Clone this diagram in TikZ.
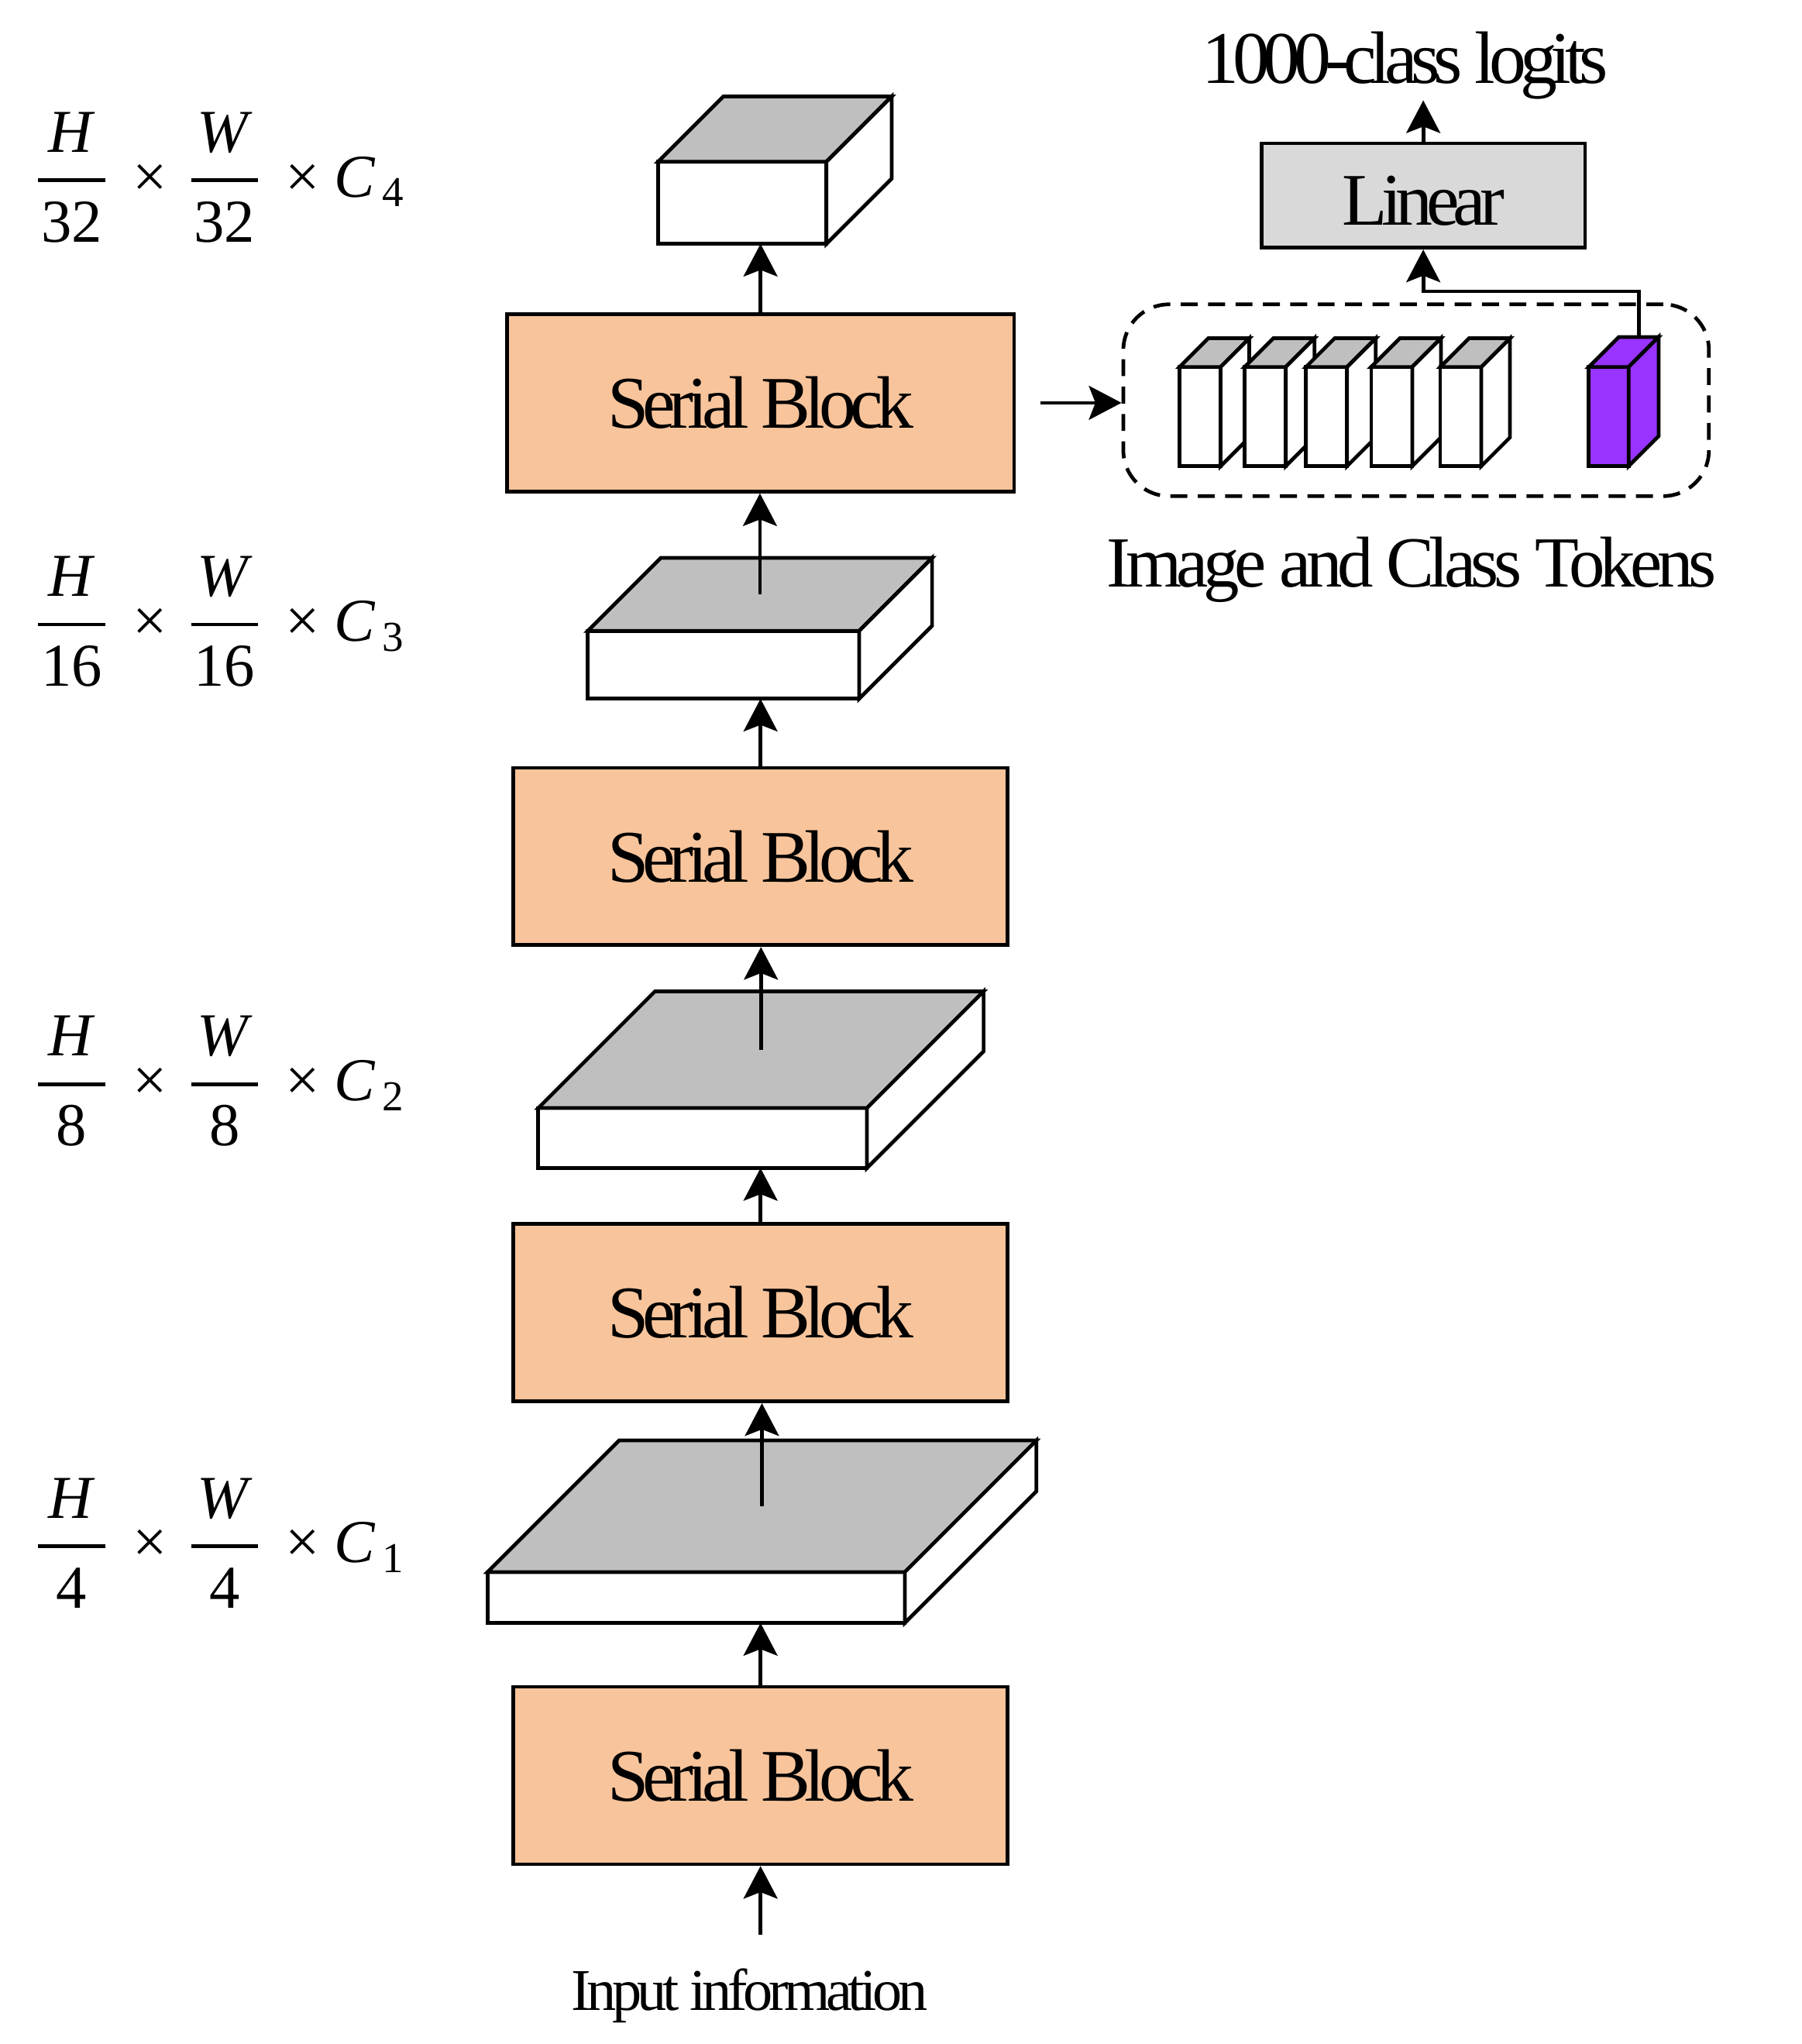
\documentclass[tikz,border=0pt]{standalone}
\usepackage{amsmath}
\usepackage{fontspec}
\setmainfont{Liberation Serif}
\newfontfamily\tightfont{Liberation Serif}[LetterSpace=-8.5]
\newfontfamily\looserfont{Liberation Serif}[LetterSpace=-7]
\usepackage{tikz}
\usetikzlibrary{positioning, arrows.meta, calc}
\definecolor{Peach}{HTML}{F8C49B}
\definecolor{Grey75}{HTML}{BFBFBF}
\definecolor{Grey85}{HTML}{D9D9D9}
\definecolor{TokViolet}{HTML}{9933FF}

\newcommand{\bigfont}{\fontsize{16.2pt}{19pt}\selectfont\tightfont}
\newcommand{\midfont}{\fontsize{15.7pt}{18pt}\selectfont\looserfont}
\newcommand{\smallfont}{\fontsize{12.9pt}{15pt}\selectfont\looserfont}
\newcommand{\mathsize}{\fontsize{13.3pt}{16pt}\selectfont}

% fraction with a fixed bar length
\newcommand{\frc}[2]{\genfrac{}{}{0.8pt}{0}{\makebox[1.1em]{\textit{#1}}}{\makebox[1.1em]{#2}}}
\newcommand{\dimlabel}[2]{$\frc{H}{#1}\mathbin{\mkern2mu\text{×}}\mkern1mu\frc{W}{#1}\mathbin{\mkern2mu\text{×}}\textit{C}\mkern2mu_{\text{#2}}$}

% feature map as a box: front node + top face + side face
\newcommand{\fmcube}[6][]{%
  \node[fmfront, minimum width=#4, minimum height=#5, #1] (#2) at #3 {};
  \filldraw[fmtop, #1] (#2.north west) -- ++(#6,-#6) -- ($(#2.north east)+(#6,-#6)$) -- (#2.north east) -- cycle;
  \filldraw[fmside, #1] (#2.north east) -- ++(#6,-#6) -- ($(#2.south east)+(#6,-#6)$) -- (#2.south east) -- cycle;
  \coordinate (#2-top) at ($(#2.north)+(#6/2,-#6/2)$);
  \coordinate (#2-back) at ($(#2.north)+(#6,-#6)$);
}

\begin{document}
\begin{tikzpicture}[
    x=0.01cm, y=-0.01cm,
    block/.style={draw, line width=0.8pt, fill=Peach, minimum width=3.79cm, minimum height=1.36cm, inner sep=0, font=\bigfont},
    linbox/.style={draw, line width=0.8pt, fill=Grey85, minimum width=2.48cm, minimum height=0.80cm, inner sep=0, text height=0.46cm, font=\bigfont},
    fmfront/.style={draw, line width=0.8pt, fill=white, inner sep=0, outer sep=0, anchor=north west},
    fmtop/.style={line width=0.8pt, fill=Grey75},
    fmside/.style={line width=0.8pt, fill=white},
    tokframe/.style={draw, line width=0.8pt, dash pattern=on 0.13cm off 0.08cm, rounded corners=0.35cm, minimum width=4.49cm, minimum height=1.47cm},
    dimlab/.style={inner sep=0, anchor=base west, font=\mathsize},
    txt/.style={inner sep=0, anchor=base},
    arr/.style={-{Stealth[length=2.5mm, width=2.6mm, inset=0.5mm]}, line width=0.8pt}
]
\useasboundingbox (0,0) rectangle (1382,1568);

% Serial blocks
\node[block] (sb1) at (583.5,1362) {Serial Block};
\node[block] (sb2) at (583.5,1007) {Serial Block};
\node[block] (sb3) at (583.5,657) {Serial Block};
\node[block, minimum width=3.89cm] (sb4) at (583.5,309) {Serial Block};

% Feature maps
\fmcube{fm1}{(374,1206)}{3.20cm}{0.39cm}{101}
\fmcube{fm2}{(413,850)}{2.52cm}{0.46cm}{89.5}
\fmcube{fm3}{(451,484)}{2.08cm}{0.52cm}{56}
\fmcube{fm4}{(505,124)}{1.29cm}{0.63cm}{50}

% Sizes
\node[dimlab] (d1) at (24.4,1198.7) {\dimlabel{4}{1}};
\node[dimlab] (d2) at (24.4,844.3) {\dimlabel{8}{2}};
\node[dimlab] (d3) at (24.4,491.7) {\dimlabel{16}{3}};
\node[dimlab] (d4) at (24.4,151) {\dimlabel{32}{4}};

% Input
\node[txt, font=\smallfont] (inp) at (575,1542) {Input information};
\coordinate (inp-top) at ([yshift=0.25cm]inp.north);

% Tokens and head
\node[tokframe] (tokbox) at (1086.5,307) {};
\fmcube{tok1}{(905,281.5)}{0.315cm}{0.76cm}{22}
\fmcube{tok2}{(955,281.5)}{0.315cm}{0.76cm}{22}
\fmcube{tok3}{(1002,281.5)}{0.315cm}{0.76cm}{22}
\fmcube{tok4}{(1052,281.5)}{0.315cm}{0.76cm}{22}
\fmcube{tok5}{(1105,281.5)}{0.315cm}{0.76cm}{22}
\fmcube[fill=TokViolet]{tokcls}{(1219,281.5)}{0.305cm}{0.76cm}{23}
\node[txt, font=\midfont] (toklab) at (1083,450) {Image and Class Tokens};
\node[linbox] (lin) at (1092,150) {Linear};
\node[txt, font=\bigfont] (logits) at (1078,64) {1000-class logits};

% Connectors
\draw[arr] (inp-top -| sb1.south) -- (sb1.south);
\draw[arr] (sb1.north) -- (sb1.north |- fm1.south);
\draw[arr] (fm1-top) -- (fm1-top |- sb2.south);
\draw[arr] (sb2.north) -- (sb2.north |- fm2.south);
\draw[arr] (fm2-top) -- (fm2-top |- sb3.south);
\draw[arr] (sb3.north) -- (sb3.north |- fm3.south);
\draw[arr] (fm3-top) -- (fm3-top |- sb4.south);
\draw[arr] (sb4.north) -- (sb4.north |- fm4.south);
\draw[arr] ([xshift=0.19cm]sb4.east) -- (sb4.east -| tokbox.west);
\draw[arr] (tokcls-back) |- ([yshift=-0.32cm]lin.south) -- (lin.south);
\draw[arr] (lin.north) -- (lin.north |- logits.south);

\end{tikzpicture}
\end{document}
